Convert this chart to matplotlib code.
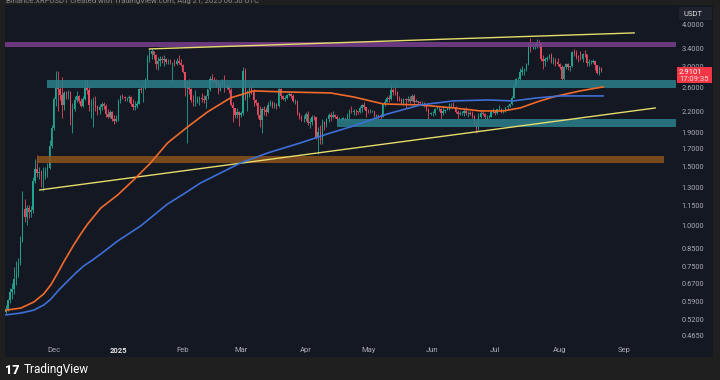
import pandas as pd
import matplotlib
matplotlib.use("Agg")
import matplotlib.pyplot as plt
import matplotlib.dates as mdates
from matplotlib.patches import Rectangle
from matplotlib.ticker import NullLocator

plt.rcParams["font.family"] = ["Roboto", "DejaVu Sans"]

# ---- daily candles, XRP/USDT, 2024-11-08 .. 2025-08-21 ----
start_date = "2024-11-08"
first_open = 0.549
closes = [
    # Nov
    0.560, 0.595, 0.630, 0.645, 0.690, 0.720, 0.770, 0.900, 1.12, 1.06, 1.13, 1.10, 1.11, 1.36, 1.48, 1.44,
    1.45, 1.41, 1.41, 1.46, 1.49, 1.73, 1.96,
    # Dec
    2.39, 2.59, 2.56, 2.47, 2.30, 2.50, 2.48, 2.52, 2.08, 2.24, 2.38, 2.45, 2.37, 2.29, 2.40, 2.59,
    2.55, 2.30, 2.30, 2.35, 2.27, 2.22, 2.27, 2.32, 2.28, 2.16, 2.12, 2.19, 2.08, 2.06, 2.08,
    # Jan
    2.37, 2.44, 2.43, 2.41, 2.41, 2.43, 2.31, 2.27, 2.29, 2.32, 2.56, 2.55, 2.56, 2.74, 3.17, 3.26,
    3.33, 3.24, 3.05, 3.12, 3.17, 3.13, 3.15, 3.09, 3.10, 3.07, 3.08, 3.06, 3.12, 3.08, 3.03,
    # Feb
    2.88, 2.59, 2.60, 2.56, 2.38, 2.35, 2.35, 2.40, 2.42, 2.40, 2.38, 2.44, 2.56, 2.76, 2.74, 2.72,
    2.67, 2.53, 2.67, 2.74, 2.59, 2.62, 2.55, 2.30, 2.25, 2.14, 2.19, 2.14,
    # Mar
    2.17, 2.91, 2.41, 2.47, 2.57, 2.51, 2.38, 2.33, 2.14, 2.07, 2.23, 2.22, 2.19, 2.30, 2.35, 2.28,
    2.32, 2.28, 2.56, 2.44, 2.40, 2.41, 2.47, 2.48, 2.45, 2.36, 2.37, 2.17, 2.12, 2.09, 2.09,
    # Apr
    2.16, 2.03, 2.05, 2.12, 2.11, 1.84, 1.91, 1.80, 2.05, 2.00, 2.08, 2.15, 2.11, 2.14, 2.12, 2.08,
    2.08, 2.08, 2.10, 2.08, 2.13, 2.20, 2.19, 2.21, 2.20, 2.19, 2.25, 2.30, 2.26, 2.21,
    # May
    2.20, 2.20, 2.20, 2.13, 2.14, 2.13, 2.12, 2.31, 2.35, 2.42, 2.39, 2.55, 2.52, 2.51, 2.40, 2.39,
    2.33, 2.39, 2.38, 2.40, 2.37, 2.44, 2.35, 2.37, 2.34, 2.33, 2.33, 2.29, 2.23, 2.16, 2.17,
    # Jun
    2.18, 2.24, 2.24, 2.24, 2.17, 2.21, 2.22, 2.25, 2.31, 2.32, 2.27, 2.19, 2.16, 2.17, 2.17, 2.21,
    2.17, 2.17, 2.16, 2.13, 2.03, 1.96, 2.12, 2.18, 2.16, 2.11, 2.11, 2.12, 2.19, 2.19,
    # Jul
    2.18, 2.23, 2.24, 2.20, 2.21, 2.26, 2.28, 2.31, 2.42, 2.62, 2.75, 2.76, 2.88, 2.93, 2.93, 3.05,
    3.48, 3.44, 3.45, 3.46, 3.54, 3.52, 3.16, 3.12, 3.16, 3.18, 3.24, 3.10, 3.12, 3.10, 3.05,
    # Aug
    2.99, 2.76, 2.98, 3.05, 2.98, 3.00, 3.31, 3.30, 3.20, 3.18, 3.16, 3.27, 3.26, 3.08, 3.09, 3.10,
    3.11, 3.03, 2.86, 2.97, 2.91,
]
highs = [
    0.575, 0.600, 0.650, 0.670, 0.750, 0.780, 0.800, 0.930, 1.27, 1.20, 1.15, 1.15, 1.14, 1.40, 1.58, 1.63,
    1.50, 1.47, 1.50, 1.50, 1.54, 1.80, 2.00,
    2.43, 2.90, 2.91, 2.62, 2.78, 2.54, 2.53, 2.55, 2.53, 2.33, 2.44, 2.53, 2.47, 2.42, 2.45, 2.73,
    2.73, 2.63, 2.40, 2.43, 2.44, 2.30, 2.32, 2.34, 2.34, 2.31, 2.24, 2.22, 2.20, 2.15, 2.15,
    2.40, 2.47, 2.48, 2.45, 2.43, 2.47, 2.44, 2.39, 2.36, 2.37, 2.59, 2.60, 2.62, 2.77, 3.24, 3.40,
    3.40, 3.35, 3.27, 3.20, 3.22, 3.22, 3.24, 3.19, 3.16, 3.16, 3.10, 3.15, 3.18, 3.24, 3.16,
    3.05, 2.89, 2.72, 2.76, 2.58, 2.46, 2.55, 2.45, 2.45, 2.50, 2.46, 2.47, 2.57, 2.80, 2.84, 2.78,
    2.75, 2.73, 2.70, 2.76, 2.82, 2.65, 2.64, 2.58, 2.35, 2.25, 2.25, 2.20,
    2.21, 2.98, 2.96, 2.55, 2.60, 2.65, 2.57, 2.40, 2.35, 2.28, 2.27, 2.29, 2.27, 2.34, 2.38, 2.37,
    2.34, 2.33, 2.58, 2.59, 2.47, 2.44, 2.48, 2.52, 2.50, 2.48, 2.40, 2.38, 2.19, 2.14, 2.15,
    2.19, 2.21, 2.10, 2.14, 2.14, 2.12, 1.97, 2.00, 2.08, 2.06, 2.10, 2.17, 2.19, 2.21, 2.16, 2.14,
    2.12, 2.10, 2.11, 2.10, 2.17, 2.23, 2.29, 2.23, 2.24, 2.21, 2.28, 2.31, 2.35, 2.27,
    2.24, 2.23, 2.22, 2.21, 2.16, 2.15, 2.16, 2.32, 2.39, 2.45, 2.47, 2.65, 2.58, 2.62, 2.54, 2.44,
    2.41, 2.42, 2.41, 2.44, 2.44, 2.48, 2.48, 2.40, 2.37, 2.36, 2.36, 2.35, 2.32, 2.25, 2.19,
    2.21, 2.25, 2.29, 2.27, 2.25, 2.26, 2.24, 2.26, 2.33, 2.33, 2.34, 2.29, 2.22, 2.21, 2.20, 2.25,
    2.26, 2.21, 2.20, 2.20, 2.14, 2.06, 2.18, 2.22, 2.21, 2.18, 2.14, 2.14, 2.22, 2.25,
    2.22, 2.24, 2.30, 2.25, 2.23, 2.27, 2.30, 2.33, 2.44, 2.65, 2.77, 2.78, 2.97, 3.00, 2.97, 3.07,
    3.52, 3.66, 3.52, 3.50, 3.64, 3.60, 3.55, 3.25, 3.20, 3.23, 3.28, 3.30, 3.20, 3.18, 3.18,
    3.08, 3.03, 3.00, 3.08, 3.07, 3.02, 3.35, 3.38, 3.36, 3.24, 3.33, 3.30, 3.37, 3.27, 3.15, 3.13,
    3.15, 3.12, 3.04, 3.00, 2.98,
]
lows = [
    0.540, 0.552, 0.585, 0.600, 0.620, 0.660, 0.700, 0.760, 0.890, 1.02, 1.00, 1.05, 1.06, 1.09, 1.34, 1.40,
    1.38, 1.30, 1.27, 1.38, 1.40, 1.48, 1.71,
    1.93, 2.28, 2.20, 2.38, 2.10, 2.22, 2.40, 2.40, 2.00, 1.90, 2.20, 2.35, 2.33, 2.26, 2.26, 2.38,
    2.48, 2.20, 2.10, 1.97, 2.20, 2.15, 2.16, 2.22, 2.24, 2.12, 2.10, 2.10, 2.06, 2.01, 2.04,
    2.06, 2.33, 2.39, 2.37, 2.36, 2.35, 2.28, 2.22, 2.22, 2.25, 2.32, 2.49, 2.34, 2.56, 2.73, 3.10,
    3.16, 3.15, 2.95, 2.92, 3.00, 3.08, 3.00, 3.05, 3.06, 3.05, 2.70, 3.02, 3.03, 3.05, 3.00,
    2.86, 2.45, 1.77, 2.48, 2.35, 2.28, 2.28, 2.33, 2.30, 2.34, 2.33, 2.25, 2.40, 2.54, 2.70, 2.68,
    2.60, 2.48, 2.53, 2.66, 2.52, 2.56, 2.50, 2.28, 2.05, 2.10, 2.10, 1.99,
    2.12, 2.15, 2.38, 2.20, 2.43, 2.48, 2.29, 2.30, 2.10, 1.98, 1.90, 2.15, 2.13, 2.18, 2.29, 2.25,
    2.25, 2.24, 2.27, 2.40, 2.38, 2.37, 2.39, 2.44, 2.41, 2.34, 2.32, 2.15, 2.09, 2.06, 2.05,
    2.06, 2.00, 1.96, 2.00, 2.07, 1.82, 1.64, 1.76, 1.76, 1.93, 1.98, 2.05, 2.06, 2.10, 2.10, 2.05,
    2.06, 2.06, 2.07, 2.06, 2.06, 2.09, 2.17, 2.14, 2.15, 2.16, 2.17, 2.19, 2.24, 2.12,
    2.18, 2.18, 2.19, 2.12, 2.08, 2.09, 2.09, 2.12, 2.29, 2.34, 2.34, 2.38, 2.46, 2.46, 2.36, 2.36,
    2.31, 2.30, 2.25, 2.35, 2.33, 2.36, 2.31, 2.34, 2.30, 2.30, 2.28, 2.27, 2.20, 2.08, 2.14,
    2.13, 2.14, 2.23, 2.20, 2.08, 2.15, 2.18, 2.22, 2.22, 2.26, 2.26, 2.17, 2.08, 2.14, 2.14, 2.13,
    2.14, 2.12, 2.14, 2.10, 2.00, 1.90, 1.92, 2.10, 2.14, 2.09, 2.07, 2.10, 2.11, 2.17,
    2.15, 2.16, 2.21, 2.18, 2.18, 2.19, 2.24, 2.27, 2.30, 2.41, 2.60, 2.68, 2.74, 2.83, 2.83, 2.90,
    3.03, 3.32, 3.38, 3.38, 3.42, 3.43, 3.12, 2.95, 3.02, 3.12, 3.15, 3.08, 3.05, 3.02, 3.00,
    2.95, 2.72, 2.74, 2.94, 2.93, 2.91, 2.98, 3.22, 3.17, 3.10, 3.13, 3.10, 3.20, 3.00, 3.02, 3.06,
    3.08, 2.92, 2.84, 2.83, 2.88,
]

# moving averages (days from 2024-12-01, price)
ref_date = "2024-12-01"
ma_orange_days = [-23.0, -15.8, -9.6, -4.8, -1.4, 1.9, 4.8, 9.6, 13.0, 16.3, 22.6, 30.7, 38.4, 46.5,
                  54.7, 64.3, 73.9, 84.9, 96.0, 110.4, 132.9, 144.0, 158.3, 176.1, 191.9, 204.9,
                  215.9, 224.1, 232.2, 239.9, 252.9, 263.9]
ma_orange = [0.556, 0.564, 0.588, 0.622, 0.662, 0.719, 0.776, 0.873, 0.942, 1.009, 1.127, 1.233, 1.369,
             1.539, 1.768, 1.975, 2.191, 2.414, 2.534, 2.516, 2.498, 2.430, 2.315, 2.299, 2.252, 2.206,
             2.206, 2.252, 2.348, 2.430, 2.534, 2.605]
ma_blue_days = [-23.0, -15.8, -9.6, -4.8, -1.4, 2.4, 6.7, 10.6, 14.4, 18.7, 22.6, 30.7, 41.7, 54.7,
                62.4, 70.5, 89.7, 102.7, 118.5, 132.9, 144.0, 160.3, 176.1, 191.9, 208.3, 220.7,
                232.2, 243.3, 263.9]
ma_blue = [0.538, 0.545, 0.556, 0.576, 0.600, 0.639, 0.680, 0.719, 0.755, 0.787, 0.820, 0.897, 0.995,
           1.159, 1.242, 1.340, 1.539, 1.649, 1.768, 1.894, 1.988, 2.160, 2.299, 2.364, 2.380, 2.364,
           2.414, 2.447, 2.447]

# drawn trendlines (days from ref_date, price)
trend_days = [[46.0, 278.8], [-6.7, 288.9]]
trend_prices = [[3.387, 3.784], [1.277, 2.251]]

# horizontal zones: start day, end day (None = plot edge), low, high, colour
zones = [
    (None, None, 3.44, 3.55, "#7a3e8e"),
    (-3.4, None, 2.59, 2.73, "#2a7f8b"),
    (136.3, None, 1.98, 2.08, "#2a7f8b"),
    (-8.2, 293.2, 1.54, 1.62, "#8a521b"),
]

price_ticks = [4.0, 3.4, 3.0, 2.6, 2.2, 1.9, 1.7, 1.5, 1.3, 1.15, 1.0, 0.85, 0.75, 0.67, 0.59, 0.52, 0.465]
month_ticks = ["2024-12-01", "2025-01-01", "2025-02-01", "2025-03-01", "2025-04-01", "2025-05-01",
               "2025-06-01", "2025-07-01", "2025-08-01", "2025-09-01"]
month_labels = ["Dec", "2025", "Feb", "Mar", "Apr", "May", "Jun", "Jul", "Aug", "Sep"]
last_price = "2.9101"
countdown = "17:09:35"

BG = "#141823"
FRAME = "#1f1f1f"
UP = "#22a38f"
DOWN = "#e84a5f"
TXT = "#a9acb5"

W, H = 720, 380


def fx(px):
    return px / W


def fy(py):
    return 1 - py / H


assert len(closes) == len(highs) == len(lows)
dates = pd.date_range(start_date, periods=len(closes), freq="D")
opens = [first_open] + closes[:-1]
ref = pd.Timestamp(ref_date)


def day_to_num(d):
    return mdates.date2num(ref + pd.to_timedelta(d, unit="D"))


fig = plt.figure(figsize=(7.2, 3.8), dpi=100, facecolor=FRAME)
fig.add_artist(Rectangle((fx(5), fy(357)), fx(713) - fx(5), fy(5) - fy(357),
                         transform=fig.transFigure, facecolor=BG, edgecolor="none", zorder=0))

ax = fig.add_axes([fx(5), fy(343), fx(676) - fx(5), fy(5) - fy(343)])
ax.set_facecolor(BG)
ax.patch.set_alpha(0)
ax.set_yscale("log")
xl, xr = day_to_num(-23.4), day_to_num(298.9)
ax.set_xlim(xl, xr)
ax.set_ylim(0.443, 4.59)

# candles
x = mdates.date2num(dates)
cols = [UP if c >= o else DOWN for o, c in zip(opens, closes)]
ax.vlines(x, lows, highs, colors=cols, linewidth=0.6, zorder=2)
bottoms = [min(o, c) for o, c in zip(opens, closes)]
heights = [abs(c - o) for o, c in zip(opens, closes)]
ax.bar(x, heights, bottom=bottoms, width=0.65, color=cols, linewidth=0, zorder=2)

# zones
for s, e, lo, hi, c in zones:
    x0 = xl if s is None else day_to_num(s)
    x1 = xr if e is None else day_to_num(e)
    ax.add_patch(Rectangle((x0, lo), x1 - x0, hi - lo, facecolor=c, edgecolor="none",
                           alpha=0.85, zorder=3))

# trendlines
for d, p in zip(trend_days, trend_prices):
    ax.plot([day_to_num(v) for v in d], p, color="#e6dc6c", linewidth=1.0, zorder=4)

# moving averages
ax.plot([day_to_num(v) for v in ma_orange_days], ma_orange, color="#f26a2b", linewidth=1.2,
        solid_joinstyle="round", zorder=5)
ax.plot([day_to_num(v) for v in ma_blue_days], ma_blue, color="#3d6fd6", linewidth=1.2,
        solid_joinstyle="round", zorder=5)

# axes cosmetics
for sp in ax.spines.values():
    sp.set_visible(False)
ax.yaxis.tick_right()
ax.yaxis.set_minor_locator(NullLocator())
ax.set_yticks(price_ticks)
ax.set_yticklabels([f"{v:.4f}" for v in price_ticks])
ax.tick_params(axis="y", length=0, pad=4, labelsize=5.3, labelcolor=TXT)
ax.set_xticks([mdates.date2num(pd.Timestamp(t)) for t in month_ticks])
ax.set_xticklabels(month_labels)
ax.tick_params(axis="x", length=0, pad=3, labelsize=5.5, labelcolor=TXT)
for lab in ax.get_xticklabels():
    if lab.get_text() == "2025":
        lab.set_color("#e6e6e6")
        lab.set_fontweight("bold")

# last price tag (covers part of the 3.0000 label, as on the original)
fig.add_artist(Rectangle((fx(677), fy(83)), fx(712) - fx(677), fy(67) - fy(83),
                         transform=fig.transFigure, facecolor="#f23645", edgecolor="none", zorder=10))
fig.text(fx(679), fy(71.5), last_price, color="white", fontsize=5.5, va="center", ha="left", zorder=11)
fig.text(fx(679), fy(79), countdown, color="#ffe0e0", fontsize=5.5, va="center", ha="left", zorder=11)

# currency box
fig.add_artist(Rectangle((fx(679), fy(20)), fx(712) - fx(679), fy(7) - fy(20),
                         transform=fig.transFigure, facecolor="#1e222d", edgecolor="none", zorder=10))
fig.text(fx(683), fy(13.5), "USDT", color="#e0e0e0", fontsize=5.5, va="center", ha="left", zorder=11)

# header (cut off at the top edge, as on the original) and footer logo
fig.text(fx(6), fy(0.5), "Binance:XRPUSDT created with TradingView.com, Aug 21, 2025 06:50 UTC",
         color="#8a8a8a", fontsize=5.5, va="center", ha="left")
fig.text(fx(5), fy(370), "17", color="white", fontsize=9, fontweight="heavy", va="center", ha="left")
fig.text(fx(24), fy(370), "TradingView", color="white", fontsize=8.5, va="center", ha="left")

fig.savefig("out.png", dpi=100, facecolor=FRAME)
